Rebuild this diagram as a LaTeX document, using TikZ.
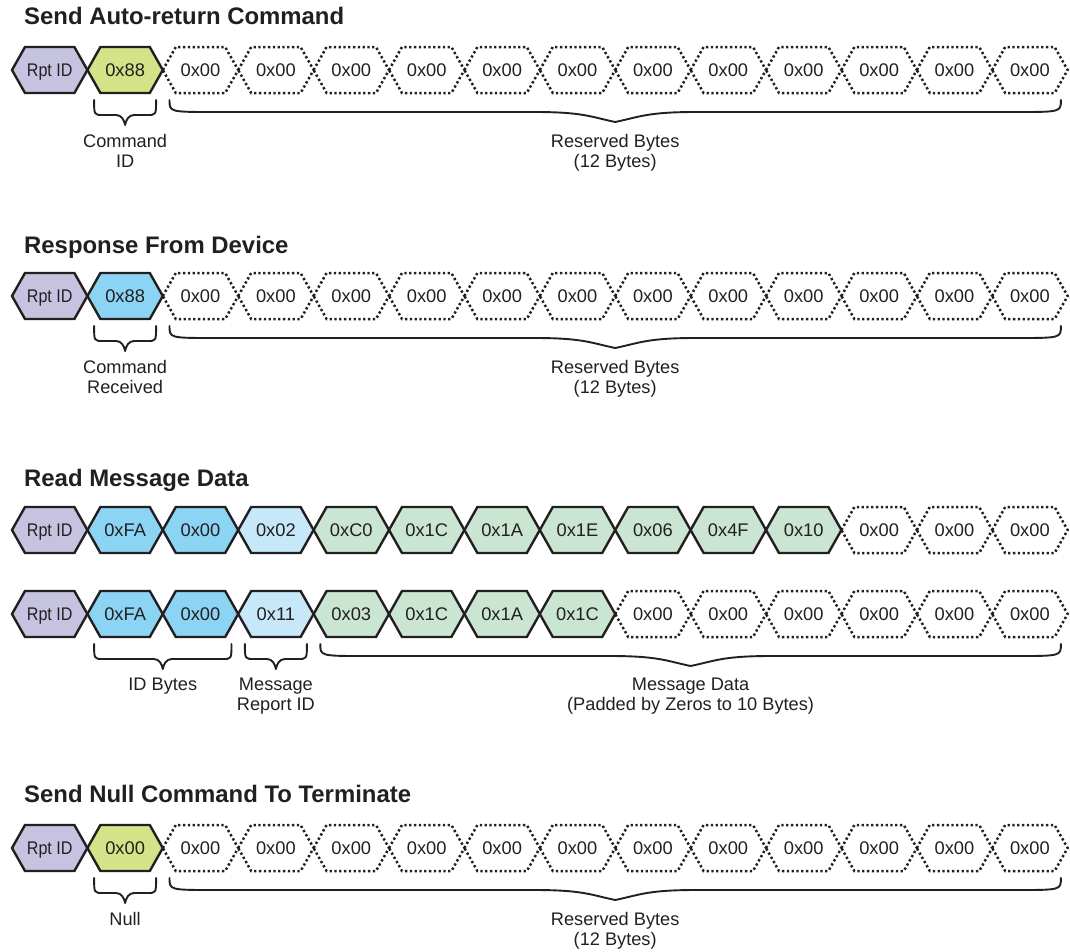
\documentclass[tikz,border=0pt]{standalone}
\usepackage{fontspec}
\setmainfont{Liberation Sans}
\usepackage{graphicx}
\definecolor{ink}{HTML}{231F20}
\definecolor{cpurple}{HTML}{C5C3E0}
\definecolor{cyellow}{HTML}{D4E288}
\definecolor{cblue}{HTML}{8BD4F4}
\definecolor{clblue}{HTML}{C7E8F9}
\definecolor{cgreen}{HTML}{CBE5D3}
\tikzset{
 hexsolid/.style={draw=ink, line width=2.4pt, line join=miter},
 hexdot/.style={draw=ink, line width=2.5pt, dash pattern=on 2.3pt off 2.5pt},
 celltext/.style={anchor=base, inner sep=0pt, text=ink, font=\fontsize{18.3}{20}\selectfont},
 labeltext/.style={anchor=north, inner sep=0pt, align=center, text=ink, font=\fontsize{18.2}{20}\selectfont},
 titletext/.style={anchor=base west, inner sep=0pt, text=ink, font=\fontsize{23.9}{26}\selectfont\bfseries},
 bracestyle/.style={draw=ink, line width=1.9pt, line cap=round, line join=round},
}
\newcommand\hexcell[5]{%
  \path[#4] ({49.7+75.4*#2-37.7},#3) -- ({49.7+75.4*#2-24.7},{#3-23}) -- ({49.7+75.4*#2+24.7},{#3-23}) -- ({49.7+75.4*#2+37.7},#3) -- ({49.7+75.4*#2+24.7},{#3+23}) -- ({49.7+75.4*#2-24.7},{#3+23}) -- cycle;
  \node[celltext] (#1) at ({49.7+75.4*#2},{#3+6.3}) {#5};}
\newcommand\bracepath[8]{%
  \draw[bracestyle] (#1,#3) .. controls (#1,{#3+#4}) .. ({#1+#6},{#3+#4})
    -- ({(#1+#2)/2-#7},{#3+#4})
    .. controls ({(#1+#2)/2-#7*0.4},{#3+#4}) and ({(#1+#2)/2-#7*#8},{#3+#5-(#5-#4)*0.5}) .. ({(#1+#2)/2},{#3+#5})
    .. controls ({(#1+#2)/2+#7*#8},{#3+#5-(#5-#4)*0.5}) and ({(#1+#2)/2+#7*0.4},{#3+#4}) .. ({(#1+#2)/2+#7},{#3+#4})
    -- ({#2-#6},{#3+#4}) .. controls (#2,{#3+#4}) .. (#2,#3);}
\newcommand\smallbrc[3]{\bracepath{49.7+75.4*#1-31}{49.7+75.4*#2+31}{#3}{15}{25}{9}{9}{0.1}}
\newcommand\bigbrc[3]{\bracepath{49.7+75.4*#1-31}{49.7+75.4*#2+31}{#3}{12}{22}{45}{80}{0.3}}
\newcommand\rpt{\scalebox{0.88}[1]{Rpt ID}}
\begin{document}
\begin{tikzpicture}[x=1pt,y=-1pt]
\useasboundingbox (0,0) rectangle (1070,951);
% ---- Row 1
\node[titletext] (t1) at (24,24) {Send Auto-return Command};
\hexcell{a0}{0}{70}{hexsolid,fill=cpurple}{\rpt}
\hexcell{a1}{1}{70}{hexsolid,fill=cyellow}{0x88}
\foreach \i in {2,...,13} {\hexcell{a\i}{\i}{70}{hexdot}{0x00}}
\smallbrc{1}{1}{100}
\bigbrc{2}{13}{100}
\node[labeltext] (la1) at ({49.7+75.4*1},{70+64}) {Command\\ID};
\node[labeltext] (la2) at ({49.7+75.4*7.5},{70+64}) {Reserved Bytes\\(12 Bytes)};
% ---- Row 2
\node[titletext] (t2) at (24,253) {Response From Device};
\hexcell{b0}{0}{296}{hexsolid,fill=cpurple}{\rpt}
\hexcell{b1}{1}{296}{hexsolid,fill=cblue}{0x88}
\foreach \i in {2,...,13} {\hexcell{b\i}{\i}{296}{hexdot}{0x00}}
\smallbrc{1}{1}{326}
\bigbrc{2}{13}{326}
\node[labeltext] (lb1) at ({49.7+75.4*1},{296+64}) {Command\\Received};
\node[labeltext] (lb2) at ({49.7+75.4*7.5},{296+64}) {Reserved Bytes\\(12 Bytes)};
% ---- Row 3
\node[titletext] (t3) at (24,486) {Read Message Data};
\hexcell{c0}{0}{530}{hexsolid,fill=cpurple}{\rpt}
\hexcell{c1}{1}{530}{hexsolid,fill=cblue}{0xFA}
\hexcell{c2}{2}{530}{hexsolid,fill=cblue}{0x00}
\hexcell{c3}{3}{530}{hexsolid,fill=clblue}{0x02}
\hexcell{c4}{4}{530}{hexsolid,fill=cgreen}{0xC0}
\hexcell{c5}{5}{530}{hexsolid,fill=cgreen}{0x1C}
\hexcell{c6}{6}{530}{hexsolid,fill=cgreen}{0x1A}
\hexcell{c7}{7}{530}{hexsolid,fill=cgreen}{0x1E}
\hexcell{c8}{8}{530}{hexsolid,fill=cgreen}{0x06}
\hexcell{c9}{9}{530}{hexsolid,fill=cgreen}{0x4F}
\hexcell{c10}{10}{530}{hexsolid,fill=cgreen}{0x10}
\foreach \i in {11,...,13} {\hexcell{c\i}{\i}{530}{hexdot}{0x00}}
% ---- Row 4
\hexcell{d0}{0}{614}{hexsolid,fill=cpurple}{\rpt}
\hexcell{d1}{1}{614}{hexsolid,fill=cblue}{0xFA}
\hexcell{d2}{2}{614}{hexsolid,fill=cblue}{0x00}
\hexcell{d3}{3}{614}{hexsolid,fill=clblue}{0x11}
\hexcell{d4}{4}{614}{hexsolid,fill=cgreen}{0x03}
\hexcell{d5}{5}{614}{hexsolid,fill=cgreen}{0x1C}
\hexcell{d6}{6}{614}{hexsolid,fill=cgreen}{0x1A}
\hexcell{d7}{7}{614}{hexsolid,fill=cgreen}{0x1C}
\foreach \i in {8,...,13} {\hexcell{d\i}{\i}{614}{hexdot}{0x00}}
\smallbrc{1}{2}{644}
\smallbrc{3}{3}{644}
\bigbrc{4}{13}{644}
\node[labeltext] (ld1) at ({49.7+75.4*1.5},{614+64}) {ID Bytes};
\node[labeltext] (ld2) at ({49.7+75.4*3},{614+64}) {Message\\Report ID};
\node[labeltext] (ld3) at ({49.7+75.4*8.5},{614+64}) {Message Data\\(Padded by Zeros to 10 Bytes)};
% ---- Row 5
\node[titletext] (t5) at (24,802) {Send Null Command To Terminate};
\hexcell{e0}{0}{848}{hexsolid,fill=cpurple}{\rpt}
\hexcell{e1}{1}{848}{hexsolid,fill=cyellow}{0x00}
\foreach \i in {2,...,13} {\hexcell{e\i}{\i}{848}{hexdot}{0x00}}
\smallbrc{1}{1}{878}
\bigbrc{2}{13}{878}
\node[labeltext] (le1) at ({49.7+75.4*1},{848+64}) {Null};
\node[labeltext] (le2) at ({49.7+75.4*7.5},{848+64}) {Reserved Bytes\\(12 Bytes)};
\end{tikzpicture}
\end{document}
